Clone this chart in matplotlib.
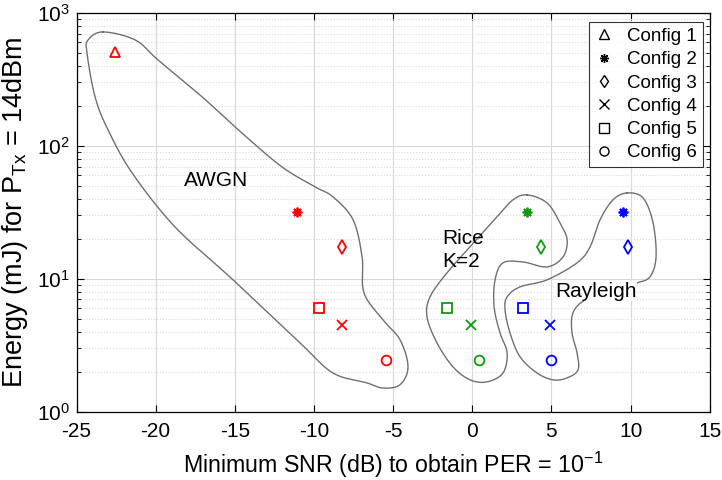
import matplotlib
matplotlib.use("Agg")
import matplotlib.pyplot as plt
import numpy as np

plt.rcParams['font.family'] = ['Liberation Sans', 'DejaVu Sans']
plt.rcParams['mathtext.fontset'] = 'custom'
plt.rcParams['mathtext.rm'] = 'Liberation Sans'
plt.rcParams['mathtext.default'] = 'regular'
plt.rcParams['axes.unicode_minus'] = False

# Data: minimum SNR (dB) and energy (mJ) per configuration
configs = ["Config 1", "Config 2", "Config 3", "Config 4", "Config 5", "Config 6"]
markers = ["^", (8, 2, 0), "d", "x", "s", "o"]

awgn_snr = [-22.6, -11.1, -8.2, -8.2, -9.7, -5.45]
awgn_energy = [512, 32, 17.4, 4.5, 6.05, 2.46]

rice_snr = [None, 3.45, 4.35, -0.1, -1.6, 0.45]
rice_energy = [None, 32, 17.4, 4.5, 6.05, 2.46]

rayl_snr = [None, 9.5, 9.85, 4.9, 3.2, 5.0]
rayl_energy = [None, 32, 17.4, 4.5, 6.05, 2.46]

# Hand-drawn group outlines (SNR dB, energy mJ)
awgn_outline_x = [-23.33, -21.30, -19.85, -17.07, -14.55, -12.02, -9.93, -8.80, -7.53, -6.96,
                  -6.84, -5.64, -4.56, -4.06, -4.56, -5.64, -6.65, -8.80, -10.88, -15.11,
                  -18.78, -21.49, -23.01, -23.83, -24.34, -24.27]
awgn_outline_y = [720, 627, 443, 234, 125, 69.5, 49.2, 41.4, 27.8, 14.6,
                  7.85, 4.92, 3.48, 2.18, 1.60, 1.51, 1.65, 1.96, 3.30, 9.83,
                  24.6, 62.7, 132, 234, 500, 627]

rice_outline_x = [3.46, 4.72, 5.54, 5.99, 5.73, 4.72, 3.21, 1.94, 1.44, 1.38, 1.75, 2.20,
                  1.94, 0.93, -0.14, -1.22, -2.23, -2.86, -2.67, -1.60, -0.14, 1.56, 2.57]
rice_outline_y = [42.8, 37.3, 26.4, 19.7, 14.6, 12.3, 13.4, 13.2, 9.83, 6.16, 3.93, 2.78,
                  1.96, 1.68, 1.74, 2.18, 3.30, 5.18, 7.32, 11.1, 17.4, 29.3, 39.3]

rayl_outline_x = [9.78, 10.79, 11.42, 11.61, 11.23, 10.41, 8.70, 7.12, 6.36, 6.30, 6.62, 6.68,
                  5.99, 5.10, 4.09, 3.02, 2.38, 2.07, 2.20, 3.02, 4.72, 6.62, 7.44, 8.07, 8.89]
rayl_outline_y = [44.3, 40.6, 26.4, 14.6, 10.4, 9.33, 8.27, 6.95, 5.55, 3.93, 2.78, 2.07,
                  1.80, 1.74, 1.96, 2.59, 3.93, 5.85, 7.32, 8.71, 9.83, 13.2, 17.4, 27.8, 39.3]


def closed_curve(xs, ys, n=30):
    # Catmull-Rom closed spline in (x, log y) space
    px = np.array(xs)
    py = np.log10(ys)
    m = len(px)
    outx, outy = [], []
    t = np.linspace(0, 1, n, endpoint=False)
    for i in range(m):
        p0 = np.array([px[i - 1], py[i - 1]])
        p1 = np.array([px[i], py[i]])
        p2 = np.array([px[(i + 1) % m], py[(i + 1) % m]])
        p3 = np.array([px[(i + 2) % m], py[(i + 2) % m]])
        for tt in t:
            pt = 0.5 * ((2 * p1) + (-p0 + p2) * tt + (2 * p0 - 5 * p1 + 4 * p2 - p3) * tt ** 2
                        + (-p0 + 3 * p1 - 3 * p2 + p3) * tt ** 3)
            outx.append(pt[0])
            outy.append(pt[1])
    outx.append(outx[0])
    outy.append(outy[0])
    return np.array(outx), 10 ** np.array(outy)


fig = plt.figure(figsize=(7.22, 4.8), dpi=100)
ax = fig.add_axes([0.106, 0.142, 0.877, 0.831])
ax.set_yscale('log')

for xs, ys in [(awgn_outline_x, awgn_outline_y), (rice_outline_x, rice_outline_y),
               (rayl_outline_x, rayl_outline_y)]:
    cx, cy = closed_curve(xs, ys)
    ax.plot(cx, cy, color='#707070', lw=1.0, zorder=2)

series = [(awgn_snr, awgn_energy, '#ff0000'),
          (rice_snr, rice_energy, '#119911'),
          (rayl_snr, rayl_energy, '#0000ff')]
for snr, energy, col in series:
    for i in range(6):
        if snr[i] is None:
            continue
        ax.plot(snr[i], energy[i], linestyle='none', marker=markers[i], ms=7,
                mfc='none', mec=col, mew=1.3, zorder=3)

# legend handles (black)
for i in range(6):
    ax.plot([], [], linestyle='none', marker=markers[i], ms=6.5, mfc='none',
            mec='black', mew=1.0, label=configs[i])

leg = ax.legend(loc='upper right', bbox_to_anchor=(0.989, 0.977), borderaxespad=0,
                fontsize=13.5, frameon=True, fancybox=False, handlelength=1.0,
                handletextpad=0.75, labelspacing=0.33, borderpad=0.3)
leg.get_frame().set_edgecolor('black')
leg.get_frame().set_linewidth(0.8)

txt_bg = dict(facecolor='white', edgecolor='none', pad=0.5)
ax.text(-16.2, 54.6, 'AWGN', fontsize=15, ha='center', va='center', zorder=4)
ax.text(-1.9, 16.5, 'Rice\nK=2', fontsize=15, ha='left', va='center',
        linespacing=1.3, zorder=4)
ax.text(7.8, 8.1, 'Rayleigh', fontsize=15, ha='center', va='center', bbox=txt_bg, zorder=4)

ax.set_xlim(-25, 15)
ax.set_ylim(1, 1000)
ax.set_xticks(np.arange(-25, 16, 5))

ax.grid(True, which='major', color='#d9d9d9', linestyle='-', lw=0.8)
ax.grid(True, which='minor', axis='y', color='#d9d9d9', linestyle=':', lw=0.8)
ax.set_axisbelow(True)
ax.tick_params(which='both', direction='in', top=True, right=True, labelsize=15)
ax.tick_params(which='major', length=5)
ax.tick_params(which='minor', length=3)
ax.tick_params(axis='x', pad=7)
ax.tick_params(axis='y', pad=5)
for s in ax.spines.values():
    s.set_linewidth(0.9)

ax.set_xlabel('Minimum SNR (dB) to obtain PER = 10$^{-1}$', fontsize=16.7, labelpad=7)
ax.set_ylabel('Energy (mJ) for P$_{Tx}$ = 14dBm', fontsize=19.5, labelpad=5)

fig.savefig('out.png', dpi=100)
